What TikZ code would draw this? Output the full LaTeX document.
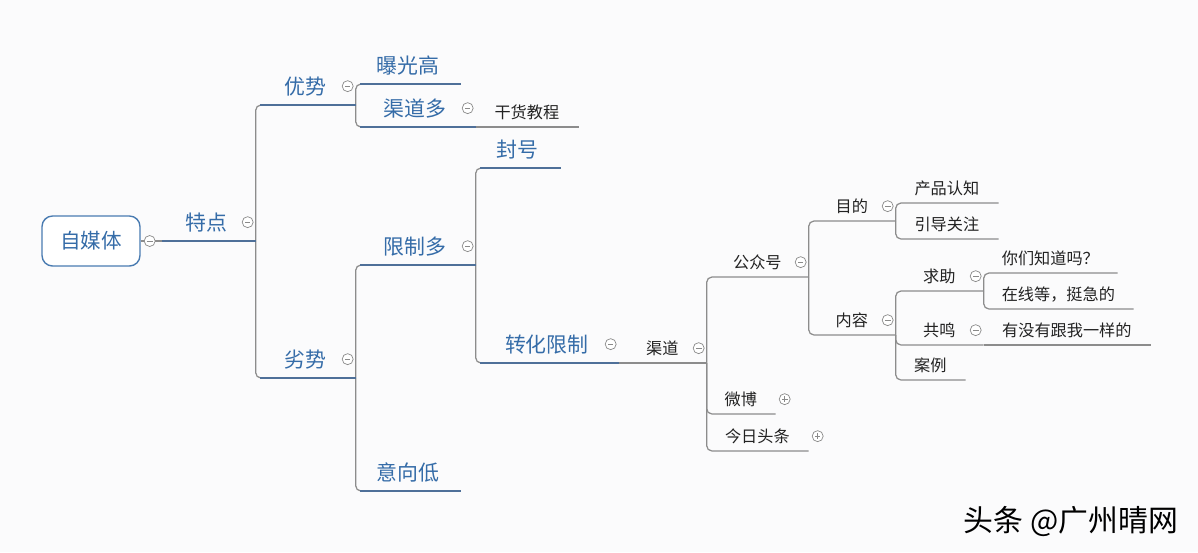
\documentclass[tikz,border=0pt]{standalone}
\usepackage{fontspec}
\setmainfont{Noto Sans CJK SC}
\usetikzlibrary{calc}
\definecolor{mapblue}{HTML}{356CA8}
\definecolor{lineblue}{HTML}{4F7099}
\definecolor{linegray}{HTML}{8C8C8C}
\definecolor{foldgray}{HTML}{8A8A8A}
\definecolor{bggray}{HTML}{FBFBFC}
\definecolor{textblack}{HTML}{222222}

\begin{document}
\begin{tikzpicture}[
  x=0.02cm,y=-0.02cm,
  root/.style={rectangle,rounded corners=6pt,draw=mapblue!90,line width=0.8pt,fill=white,
    minimum width=1.96cm,minimum height=1cm,font=\fontsize{11.7pt}{14pt}\selectfont,text=mapblue},
  major/.style={rectangle,anchor=south west,inner sep=0pt,minimum height=0.74cm,
    font=\fontsize{11.9pt}{14pt}\selectfont,text=mapblue},
  minor/.style={rectangle,anchor=south west,inner sep=0pt,minimum height=0.58cm,
    font=\fontsize{9.2pt}{11pt}\selectfont,text=textblack},
  conn/.style={draw=linegray,line width=0.7pt,rounded corners=3pt},
  uline/.style={draw=lineblue,line width=1pt},
  fold/.style={circle,draw=foldgray,fill=white,line width=0.4pt,minimum size=0.22cm,inner sep=0pt,
    path picture={\draw[foldgray,line width=0.5pt]
      ([xshift=-1.6pt]path picture bounding box.center) -- ([xshift=1.6pt]path picture bounding box.center);}},
  unfold/.style={fold,
    path picture={\draw[foldgray,line width=0.5pt]
      ([xshift=-1.6pt]path picture bounding box.center) -- ([xshift=1.6pt]path picture bounding box.center)
      ([yshift=-1.6pt]path picture bounding box.center) -- ([yshift=1.6pt]path picture bounding box.center);}},
]
\fill[bggray] (0,0) rectangle (1198,552);
\useasboundingbox (0,0) rectangle (1198,552);

% Root and first level
\node[root] (zmt) at (91,241) {自媒体};
\node[major,minimum width=1.96cm] (tedian) at (157,241) {特点};

% Strengths
\node[major,minimum width=2cm] (youshi) at (255,105) {优势};
\node[major,minimum width=2.1cm] (baoguang) at (355,84) {曝光高};
\node[major,minimum width=2.4cm] (qudaoduo) at (355,127) {渠道多};
\node[minor,minimum width=2.06cm] (ganhuo) at (475,127) {干货教程};

% Weaknesses
\node[major,minimum width=2cm] (lieshi) at (255,378) {劣势};
\node[major,minimum width=2.4cm] (xianzhi) at (355,265) {限制多};
\node[major,minimum width=2.1cm] (yixiang) at (355,491) {意向低};
\node[major,minimum width=1.7cm] (fenghao) at (475,168) {封号};
\node[major,minimum width=2.86cm] (zhuanhua) at (475,363) {转化限制};
\node[minor,minimum width=1.76cm] (qudao) at (618,363) {渠道};

% Channels
\node[minor,minimum width=2.04cm] (gzh) at (706,277) {公众号};
\node[minor,minimum width=1.38cm] (weibo) at (706,414) {微博};
\node[minor,minimum width=2.04cm] (toutiao) at (706,451) {今日头条};
\node[minor,minimum width=1.74cm] (mudi) at (808,221) {目的};
\node[minor,minimum width=1.74cm] (neirong) at (808,335) {内容};
\node[minor,minimum width=2.06cm] (chanpin) at (895,203) {产品认知};
\node[minor,minimum width=2.06cm] (yindao) at (895,239) {引导关注};
\node[minor,minimum width=1.76cm] (qiuzhu) at (895,291) {求助};
\node[minor,minimum width=1.76cm] (gongming) at (895,345) {共鸣};
\node[minor,minimum width=1.4cm] (anli) at (895,380) {案例};
\node[minor,minimum width=2.68cm] (zhidao) at (983,273) {你们知道吗？};
\node[minor,minimum width=3cm] (zaixian) at (983,309) {在线等，挺急的};
\node[minor,minimum width=3.34cm] (youmei) at (983,345) {有没有跟我一样的};

% Connectors
\draw[conn] (zmt.east) -- (tedian.south west) -- (tedian.south east);
\foreach \a/\b in {tedian/youshi,tedian/lieshi,youshi/baoguang,youshi/qudaoduo,
  lieshi/xianzhi,lieshi/yixiang,xianzhi/fenghao,xianzhi/zhuanhua,qudao/gzh,qudao/weibo,
  qudao/toutiao,gzh/mudi,gzh/neirong,mudi/chanpin,mudi/yindao,neirong/qiuzhu,
  neirong/gongming,neirong/anli,qiuzhu/zhidao,qiuzhu/zaixian}
  \draw[conn] (\a.south east) |- (\b.south east);
\foreach \a/\b in {qudaoduo/ganhuo,zhuanhua/qudao,gongming/youmei}
  \draw[conn] (\a.south east) -- (\b.south east);
\foreach \n in {tedian,youshi,lieshi,baoguang,qudaoduo,xianzhi,yixiang,fenghao,zhuanhua}
  \draw[uline] ($(\n.south west)+(5,0)$) -- (\n.south east);

% Fold marks
\node[fold] (f0) at ($(zmt.east)+(9,0)$) {};
\foreach \n in {tedian,youshi,lieshi,qudaoduo,xianzhi,zhuanhua,qudao,gzh,mudi,neirong,qiuzhu,gongming}
  \node[fold] (f-\n) at ($(\n.east)+(-8,0)$) {};
\foreach \n in {weibo,toutiao}
  \node[unfold] (u-\n) at ($(\n.east)+(9,0)$) {};

% Watermark
\node[font=\fontsize{17pt}{20pt}\selectfont,text=black] (mark) at (1071,521) {头条 @广州晴网};
\end{tikzpicture}
\end{document}
